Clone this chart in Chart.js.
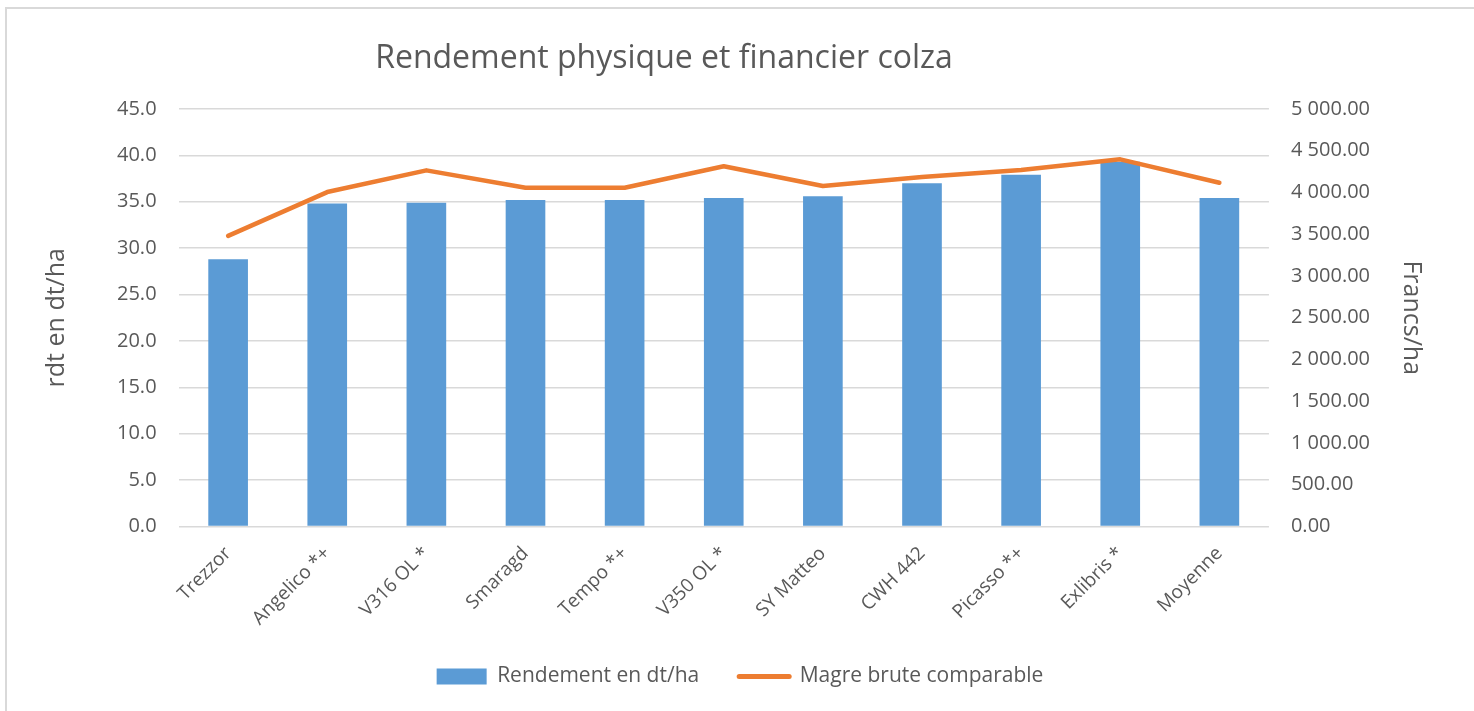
<!DOCTYPE html>
<html>
<head>
<meta charset="utf-8">
<script src="https://cdn.jsdelivr.net/npm/chart.js@4"></script>
<style>
  html, body { margin: 0; padding: 0; background: #fff; overflow: hidden; }
  #frame { position: absolute; left: 5px; top: 7px; width: 1480px; height: 720px; border: 2px solid #d9d9d9; }
  #wrap { position: absolute; left: 0; top: 0; width: 1474px; height: 711px; }
  #title { position: absolute; left: 0; top: 34px; width: 1328px; text-align: center;
           font: 32px 'Open Sans', sans-serif; color: #595959; }
</style>
</head>
<body>
<div id="frame"></div>
<div id="wrap"><canvas id="chart"></canvas></div>
<div id="title">Rendement physique et financier colza</div>
<script>
/* DATA */
const varieties = ["Trezzor", "Angelico *+", "V316 OL *", "Smaragd", "Tempo *+", "V350 OL *", "SY Matteo", "CWH 442", "Picasso *+", "Exlibris *", "Moyenne"];
const rendement = [28.8, 34.8, 34.9, 35.2, 35.2, 35.4, 35.6, 37.0, 37.9, 39.3, 35.4];
const margeBrute = [3480, 4005, 4265, 4057, 4057, 4315, 4077, 4185, 4270, 4397, 4117];

const grey = "#595959";
const font = "'Open Sans', 'DejaVu Sans', sans-serif";

function francs(v) {
    const s = Number(v).toFixed(2);
    const [ent, dec] = s.split(".");
    return ent.replace(/\B(?=(\d{3})+(?!\d))/g, " ") + "." + dec;
}

new Chart(document.getElementById("chart"), {
    data: {
        labels: varieties,
        datasets: [{
            type: "line",
            label: "Magre brute comparable",
            data: margeBrute,
            yAxisID: "y1",
            borderColor: "#ED7D31",
            backgroundColor: "#ED7D31",
            borderWidth: 4.5,
            borderCapStyle: "round",
            borderJoinStyle: "round",
            pointRadius: 0,
            tension: 0,
            order: 0
        }, {
            type: "bar",
            label: "Rendement en dt/ha",
            data: rendement,
            yAxisID: "y",
            backgroundColor: "#5B9BD5",
            barPercentage: 0.4,
            categoryPercentage: 1,
            order: 1
        }]
    },
    options: {
        responsive: true,
        maintainAspectRatio: false,
        animation: false,
        layout: { padding: { left: 38, right: 32, top: 109, bottom: 14 } },
        plugins: {
            legend: {
                position: "bottom",
                labels: {
                    color: grey,
                    font: { family: font, size: 21 },
                    usePointStyle: true,
                    pointStyleWidth: 50,
                    boxHeight: 16,
                    padding: 40,
                    generateLabels: function (chart) {
                        return [{
                            text: "Rendement en dt/ha",
                            fillStyle: "#5B9BD5",
                            strokeStyle: "#5B9BD5",
                            lineWidth: 0,
                            pointStyle: "rect",
                            datasetIndex: 1,
                            fontColor: grey
                        }, {
                            text: "Magre brute comparable",
                            fillStyle: "#ED7D31",
                            strokeStyle: "#ED7D31",
                            lineWidth: 5,
                            lineCap: "round",
                            pointStyle: "line",
                            datasetIndex: 0,
                            fontColor: grey
                        }];
                    }
                }
            },
            tooltip: { enabled: false }
        },
        scales: {
            x: {
                grid: { display: false },
                border: { display: false },
                afterFit: function (scale) { scale.height -= 12; },
                ticks: {
                    color: grey,
                    font: { family: font, size: 19 },
                    maxRotation: 45,
                    minRotation: 45,
                    padding: 8
                }
            },
            y: {
                position: "left",
                min: 0,
                max: 45,
                grid: { color: "#d9d9d9", lineWidth: 1.5, drawTicks: false },
                border: { display: false },
                ticks: {
                    stepSize: 5,
                    color: grey,
                    font: { family: font, size: 20 },
                    padding: 22,
                    callback: v => Number(v).toFixed(1)
                },
                title: {
                    display: true,
                    text: "rdt en dt/ha",
                    color: grey,
                    font: { family: font, size: 25 },
                    padding: { bottom: 23 }
                }
            },
            y1: {
                position: "right",
                min: 0,
                max: 5000,
                grid: { drawOnChartArea: false, drawTicks: false },
                border: { display: false },
                ticks: {
                    stepSize: 500,
                    color: grey,
                    font: { family: font, size: 20 },
                    padding: 22,
                    callback: v => francs(v)
                },
                title: {
                    display: true,
                    text: "Francs/ha",
                    color: grey,
                    font: { family: font, size: 25 },
                    padding: { top: 16 }
                }
            }
        }
    }
});
</script>
</body>
</html>
